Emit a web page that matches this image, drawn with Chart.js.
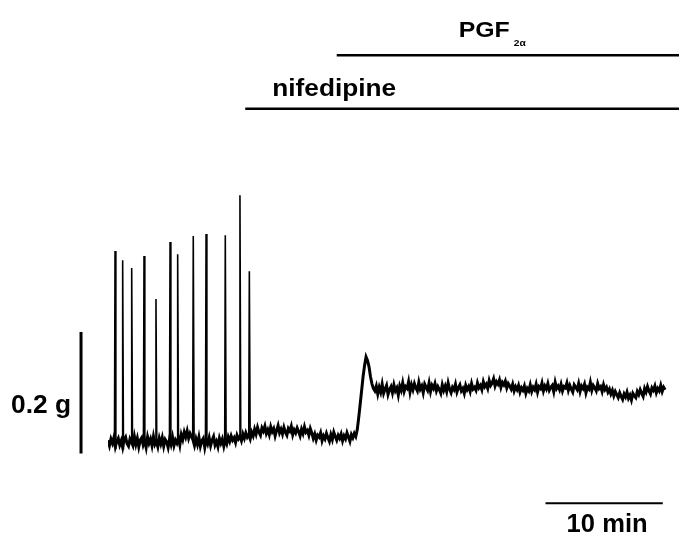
<!DOCTYPE html>
<html>
<head>
<meta charset="utf-8">
<script src="https://cdn.jsdelivr.net/npm/chart.js@4/dist/chart.umd.min.js"></script>
<style>
  html, body { margin: 0; padding: 0; background: #fff; }
  #wrap { width: 679px; height: 537px; position: relative; }
</style>
</head>
<body>
<div id="wrap"><canvas id="trace"></canvas></div>
<script>
// isometric tension recording, time in min, force in mg above resting baseline
const traceStart = 0;
const traceStep = 0.125;
const traceForce = [
    3, -6, 5, -2, 7, -8, 1, 6, -5, 2,
    -9, 4, 8, -3, -7, 5, 0, -6, 9, -4,
    6, -8, 3, 7, -5, 2, -9, 8, -2, 5,
    -6, 9, -4, 1, -8, 6, -3, 7, -7, 4,
    0, -9, 5, -4, 8, -6, 3, -2, 7, -5,
    12, 4, 16, 8, 18, 6, 14, 9, 3, -6,
    5, -4, 8, -7, 2, 6, -9, 4, -3, 7,
    -6, 3, 9, -5, 1, -8, 6, -2, 5, -7,
    4, -3, 8, 1, 10, 3, 7, -1, 11, 5,
    9, 2, 13, 6, 15, 8, 12, 5, 16, 10,
    21, 13, 24, 16, 11, 23, 18, 26, 14, 20,
    12, 25, 17, 22, 10, 19, 27, 15, 21, 13,
    24, 16, 11, 22, 18, 26, 12, 20, 15, 23,
    17, 10, 21, 14, 25, 16, 19, 11, 22, 15,
    6, 13, 3, 11, 8, 15, 2, 10, 5, 14,
    7, 1, 12, 4, 16, 9, 3, 11, 6, 13,
    2, 10, 5, 15, 8, 1, 12, 7, 14, 9,
    20, 40, 62, 85, 108, 126, 140, 134, 124, 108,
    96, 88, 84, 92, 79, 90, 82, 95, 80, 87,
    93, 78, 86, 91, 81, 94, 84, 89, 77, 92,
    85, 97, 83, 91, 88, 99, 82, 94, 86, 96,
    89, 84, 98, 87, 92, 81, 95, 90, 85, 97,
    83, 93, 88, 96, 84, 91, 86, 80, 94, 85,
    92, 83, 97, 87, 81, 90, 86, 95, 82, 89,
    94, 84, 88, 80, 93, 86, 91, 83, 96, 87,
    90, 85, 97, 89, 93, 86, 99, 91, 95, 88,
    101, 93, 97, 104, 92, 99, 95, 102, 90, 98,
    94, 100, 89, 96, 92, 87, 95, 84, 91, 86,
    93, 82, 89, 85, 92, 80, 88, 84, 94, 83,
    90, 86, 95, 82, 91, 88, 97, 84, 92, 87,
    96, 85, 90, 93, 83, 98, 88, 92, 86, 95,
    84, 91, 89, 97, 85, 93, 87, 82, 94, 90,
    86, 96, 83, 92, 88, 95, 81, 90, 87, 98,
    85, 93, 89, 84, 96, 88, 91, 83, 94, 86,
    90, 82, 87, 79, 85, 76, 83, 78, 73, 81,
    75, 70, 79, 74, 82, 72, 77, 69, 80, 76,
    73, 83, 78, 86, 80, 75, 88, 82, 91, 84,
    79, 89, 85, 92, 81, 88, 84, 93, 83, 90,
    86
];

// phasic contractions before the drugs take effect
const spikeTimes = [0.60, 1.25, 2.02, 3.07, 4.09, 5.29, 5.94, 7.27, 8.36, 10.00, 11.25, 12.05];
const spikePeaks = [314, 299, 286, 306, 235, 329, 309, 339, 342, 340, 406, 281];

// drug application (min) and scale bars
const nifedipineStart = 11.7;
const pgfStart = 19.5;
const forceBar = 200;   // mg
const timeBar = 10;     // min

const tracePoints = traceForce.map((v, i) => ({ x: traceStart + i * traceStep, y: v }));

const spikePoints = [];
spikeTimes.forEach((t, i) => {
    const base = traceForce[Math.round((t - traceStart) / traceStep)];
    spikePoints.push({ x: t - 0.05, y: base });
    spikePoints.push({ x: t, y: spikePeaks[i] });
    spikePoints.push({ x: t + 0.07, y: base - 4 });
    spikePoints.push({ x: t + 0.07, y: null });
});

// bold label squeezed/stretched to a given width
function stretchText(ctx, text, x, y, size, width) {
    ctx.save();
    ctx.font = 'bold ' + size + 'px "Liberation Sans", Arial, sans-serif';
    const w = ctx.measureText(text).width;
    ctx.translate(x, y);
    ctx.scale(width ? width / w : 1, 1);
    ctx.fillText(text, 0, 0);
    ctx.restore();
}

const labels = {
    id: 'labels',
    afterDatasetsDraw(chart) {
        const { ctx, scales: { x, y } } = chart;
        ctx.save();
        ctx.fillStyle = '#000';
        ctx.strokeStyle = '#000';
        ctx.textBaseline = 'alphabetic';

        // drug bars run off the right edge
        ctx.lineWidth = 2.5;
        ctx.beginPath();
        ctx.moveTo(x.getPixelForValue(pgfStart), y.getPixelForValue(636));
        ctx.lineTo(chart.width, y.getPixelForValue(636));
        ctx.moveTo(x.getPixelForValue(nifedipineStart), y.getPixelForValue(548));
        ctx.lineTo(chart.width, y.getPixelForValue(548));
        ctx.stroke();

        stretchText(ctx, 'PGF', x.getPixelForValue(29.9), y.getPixelForValue(667), 22, 51);
        stretchText(ctx, '2\u03b1', x.getPixelForValue(34.6), y.getPixelForValue(652), 9, 12);
        stretchText(ctx, 'nifedipine', x.getPixelForValue(14.0), y.getPixelForValue(569), 24, 124);

        // 0.2 g vertical scale bar
        const bx = x.getPixelForValue(-2.3);
        ctx.lineWidth = 3;
        ctx.beginPath();
        ctx.moveTo(bx, y.getPixelForValue(-19));
        ctx.lineTo(bx, y.getPixelForValue(-19 + forceBar));
        ctx.stroke();
        stretchText(ctx, '0.2 g', 11, y.getPixelForValue(47), 26, 60);

        // 10 min horizontal scale bar
        const by = y.getPixelForValue(-101);
        ctx.lineWidth = 2;
        ctx.beginPath();
        ctx.moveTo(x.getPixelForValue(37.3), by);
        ctx.lineTo(x.getPixelForValue(37.3 + timeBar), by);
        ctx.stroke();
        stretchText(ctx, '10 min', x.getPixelForValue(39.1), y.getPixelForValue(-148), 25, 81);
        ctx.restore();
    }
};

const ctx = document.getElementById('trace').getContext('2d');
new Chart(ctx, {
    type: 'line',
    data: {
        datasets: [
            {
                label: 'tension',
                data: tracePoints,
                borderColor: '#000',
                borderWidth: 3,
                pointRadius: 0,
                tension: 0
            },
            {
                label: 'contractions',
                data: spikePoints,
                borderColor: '#000',
                borderWidth: 1.6,
                pointRadius: 0,
                tension: 0,
                spanGaps: false
            }
        ]
    },
    options: {
        responsive: true,
        maintainAspectRatio: false,
        animation: false,
        devicePixelRatio: 1,
        layout: { padding: { left: 108, right: 8, top: 4.3, bottom: 61.6 } },
        plugins: { legend: { display: false }, tooltip: { enabled: false } },
        scales: {
            x: { type: 'linear', min: 0, max: 48, display: false },
            y: { type: 'linear', min: -55, max: 720, display: false }
        }
    },
    plugins: [labels]
});
</script>
</body>
</html>
